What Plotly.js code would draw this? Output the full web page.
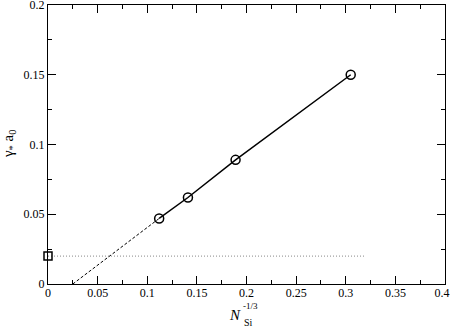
<!DOCTYPE html>
<html>
<head>
<meta charset="utf-8">
<script src="https://cdn.plot.ly/plotly-3.0.1.min.js"></script>
<style>html,body{margin:0;padding:0;background:#fff;}#chart{width:454px;height:327px;}</style>
</head>
<body>
<div id="chart"></div>
<script>
// Data
const nInvCubeRoot = [0.112, 0.141, 0.189, 0.305];
const gammaA0 = [0.047, 0.062, 0.089, 0.150];
const extrapX = [0.025, 0.112];
const extrapY = [0.0, 0.047];
const refX = [0];
const refY = [0.02];
const refLineX = [0, 0.32];
const refLineY = [0.02, 0.02];
const xTickVals = [0, 0.05, 0.1, 0.15, 0.2, 0.25, 0.3, 0.35, 0.4];
const xTickText = ["0", "0.05", "0.1", "0.15", "0.2", "0.25", "0.3", "0.35", "0.4\u00a0\u00a0"];
const yTickVals = [0, 0.05, 0.1, 0.15, 0.2];
const yTickText = ["0", "0.05", "0.1", "0.15", "0.2"];

const fam = "'Liberation Serif', 'Times New Roman', 'Liberation Sans', Arial, sans-serif";

const traces = [
  {x: refLineX, y: refLineY, mode: 'lines', line: {color: '#888', width: 1, dash: '1px,2px'}, hoverinfo: 'skip'},
  {x: extrapX, y: extrapY, mode: 'lines', line: {color: 'black', width: 1, dash: '3px,2px'}, hoverinfo: 'skip'},
  {x: nInvCubeRoot, y: gammaA0, mode: 'lines+markers', line: {color: 'black', width: 1.5},
   marker: {symbol: 'circle-open', size: 9, color: 'black', line: {width: 1.5, color: 'black'}}},
  {x: refX, y: refY, mode: 'markers', cliponaxis: false,
   marker: {symbol: 'square-open', size: 8, color: 'black', line: {width: 1.5, color: 'black'}}}
];

const axisCommon = {
  showline: true, linecolor: 'black', linewidth: 1, mirror: 'ticks',
  ticks: 'inside', ticklen: 8, tickwidth: 1, tickcolor: 'black',
  showgrid: false, zeroline: false, fixedrange: true,
  ticklabeloverflow: 'allow',
  tickfont: {family: fam, size: 12, color: 'black'}
};

const layout = {
  width: 454, height: 327,
  margin: {l: 48, r: 9, t: 5, b: 43, pad: 0},
  paper_bgcolor: 'white', plot_bgcolor: 'white',
  font: {family: fam, color: 'black'},
  showlegend: false,
  xaxis: Object.assign({}, axisCommon, {
    range: [0, 0.4], tickmode: 'array', tickvals: xTickVals, ticktext: xTickText,
    ticklabelstandoff: -2,
    minor: {dtick: 0.025, ticks: 'inside', ticklen: 4, tickcolor: 'black', showgrid: false}
  }),
  yaxis: Object.assign({}, axisCommon, {
    range: [0, 0.2], tickmode: 'array', tickvals: yTickVals, ticktext: yTickText,
    minor: {dtick: 0.025, ticks: 'inside', ticklen: 4, tickcolor: 'black', showgrid: false}
  }),
  annotations: [
    {text: 'γ<sub>*</sub> a<sub>0</sub>', xref: 'paper', yref: 'paper', x: -0.098, y: 0.502,
     textangle: -90, showarrow: false, xanchor: 'center', yanchor: 'middle',
     font: {family: fam, size: 15, color: 'black'}},
    {text: '<i>N</i>', xref: 'paper', yref: 'paper', x: 0.471, y: -0.111,
     showarrow: false, xanchor: 'center', yanchor: 'middle',
     font: {family: fam, size: 15, color: 'black'}},
    {text: '-1/3', xref: 'paper', yref: 'paper', x: 0.510, y: -0.0806,
     showarrow: false, xanchor: 'center', yanchor: 'middle',
     font: {family: fam, size: 9, color: 'black'}},
    {text: 'Si', xref: 'paper', yref: 'paper', x: 0.504, y: -0.138,
     showarrow: false, xanchor: 'center', yanchor: 'middle',
     font: {family: fam, size: 10, color: 'black'}}
  ]
};

Plotly.newPlot('chart', traces, layout, {displayModeBar: false, staticPlot: true});
</script>
</body>
</html>
